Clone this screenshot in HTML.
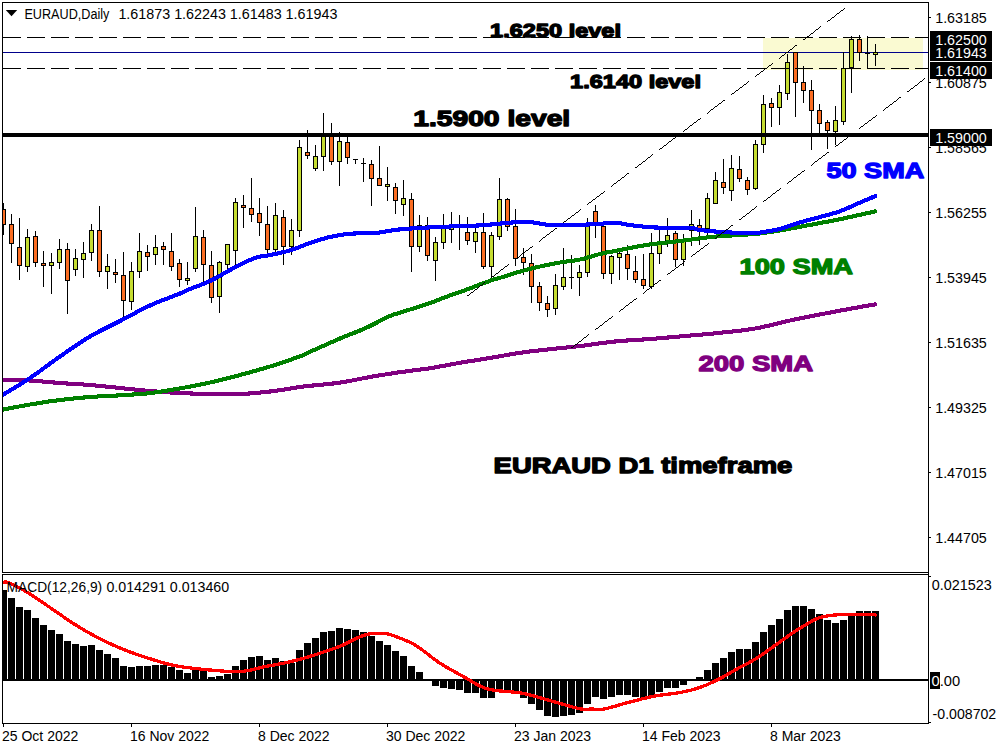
<!DOCTYPE html>
<html lang="en"><head><meta charset="utf-8"><title>EURAUD Daily</title>
<style>html,body{margin:0;padding:0;background:#fff;}body{width:1000px;height:750px;overflow:hidden;}svg{display:block;}</style></head>
<body>
<svg width="1000" height="750" viewBox="0 0 1000 750">
<rect x="0" y="0" width="1000" height="750" fill="#fff"/>
<g shape-rendering="crispEdges">
<rect x="763" y="38" width="160" height="31.5" fill="#FAFAD2"/>
<rect x="3" y="52" width="926" height="1" fill="#00008B"/>
</g>
<defs><clipPath id="cm"><rect x="3" y="3" width="925" height="569"/></clipPath><clipPath id="cs"><rect x="3" y="575" width="925" height="148"/></clipPath></defs>
<g shape-rendering="crispEdges" clip-path="url(#cm)">
<rect x="3" y="203" width="1" height="32" fill="#000"/>
<rect x="1" y="209" width="5" height="16" fill="#000"/>
<rect x="2" y="210" width="3" height="14" fill="#FB6D22"/>
<rect x="11" y="214" width="1" height="49" fill="#000"/>
<rect x="9" y="224" width="5" height="20" fill="#000"/>
<rect x="10" y="225" width="3" height="18" fill="#FB6D22"/>
<rect x="19" y="218" width="1" height="62" fill="#000"/>
<rect x="17" y="247" width="5" height="19" fill="#000"/>
<rect x="18" y="248" width="3" height="17" fill="#FB6D22"/>
<rect x="27" y="229" width="1" height="43" fill="#000"/>
<rect x="25" y="237" width="5" height="30" fill="#000"/>
<rect x="26" y="238" width="3" height="28" fill="#C5DC31"/>
<rect x="35" y="231" width="1" height="36" fill="#000"/>
<rect x="33" y="236" width="5" height="27" fill="#000"/>
<rect x="34" y="237" width="3" height="25" fill="#FB6D22"/>
<rect x="43" y="251" width="1" height="36" fill="#000"/>
<rect x="41" y="263" width="5" height="3" fill="#000"/>
<rect x="42" y="264" width="3" height="1" fill="#FB6D22"/>
<rect x="51" y="253" width="1" height="41" fill="#000"/>
<rect x="49" y="262" width="5" height="4" fill="#000"/>
<rect x="50" y="263" width="3" height="2" fill="#C5DC31"/>
<rect x="59" y="239" width="1" height="30" fill="#000"/>
<rect x="57" y="249" width="5" height="14" fill="#000"/>
<rect x="58" y="250" width="3" height="12" fill="#C5DC31"/>
<rect x="67" y="243" width="1" height="71" fill="#000"/>
<rect x="65" y="249" width="5" height="32" fill="#000"/>
<rect x="66" y="250" width="3" height="30" fill="#FB6D22"/>
<rect x="75" y="249" width="1" height="27" fill="#000"/>
<rect x="73" y="258" width="5" height="12" fill="#000"/>
<rect x="74" y="259" width="3" height="10" fill="#C5DC31"/>
<rect x="83" y="242" width="1" height="36" fill="#000"/>
<rect x="81" y="253" width="5" height="7" fill="#000"/>
<rect x="82" y="254" width="3" height="5" fill="#C5DC31"/>
<rect x="91" y="224" width="1" height="37" fill="#000"/>
<rect x="89" y="230" width="5" height="23" fill="#000"/>
<rect x="90" y="231" width="3" height="21" fill="#C5DC31"/>
<rect x="99" y="206" width="1" height="71" fill="#000"/>
<rect x="97" y="230" width="5" height="42" fill="#000"/>
<rect x="98" y="231" width="3" height="40" fill="#FB6D22"/>
<rect x="107" y="254" width="1" height="35" fill="#000"/>
<rect x="105" y="266" width="5" height="6" fill="#000"/>
<rect x="106" y="267" width="3" height="4" fill="#C5DC31"/>
<rect x="115" y="259" width="1" height="24" fill="#000"/>
<rect x="113" y="272" width="5" height="3" fill="#000"/>
<rect x="114" y="273" width="3" height="1" fill="#FB6D22"/>
<rect x="123" y="252" width="1" height="65" fill="#000"/>
<rect x="121" y="275" width="5" height="26" fill="#000"/>
<rect x="122" y="276" width="3" height="24" fill="#FB6D22"/>
<rect x="131" y="262" width="1" height="48" fill="#000"/>
<rect x="129" y="271" width="5" height="31" fill="#000"/>
<rect x="130" y="272" width="3" height="29" fill="#C5DC31"/>
<rect x="139" y="233" width="1" height="45" fill="#000"/>
<rect x="137" y="251" width="5" height="21" fill="#000"/>
<rect x="138" y="252" width="3" height="19" fill="#C5DC31"/>
<rect x="147" y="245" width="1" height="26" fill="#000"/>
<rect x="145" y="252" width="5" height="5" fill="#000"/>
<rect x="146" y="253" width="3" height="3" fill="#FB6D22"/>
<rect x="155" y="235" width="1" height="30" fill="#000"/>
<rect x="153" y="247" width="5" height="8" fill="#000"/>
<rect x="154" y="248" width="3" height="6" fill="#C5DC31"/>
<rect x="163" y="242" width="1" height="23" fill="#000"/>
<rect x="161" y="246" width="5" height="4" fill="#000"/>
<rect x="162" y="247" width="3" height="2" fill="#FB6D22"/>
<rect x="171" y="233" width="1" height="38" fill="#000"/>
<rect x="169" y="251" width="5" height="16" fill="#000"/>
<rect x="170" y="252" width="3" height="14" fill="#FB6D22"/>
<rect x="179" y="259" width="1" height="28" fill="#000"/>
<rect x="177" y="263" width="5" height="17" fill="#000"/>
<rect x="178" y="264" width="3" height="15" fill="#FB6D22"/>
<rect x="187" y="262" width="1" height="23" fill="#000"/>
<rect x="185" y="278" width="5" height="3" fill="#000"/>
<rect x="186" y="279" width="3" height="1" fill="#C5DC31"/>
<rect x="195" y="207" width="1" height="65" fill="#000"/>
<rect x="193" y="236" width="5" height="33" fill="#000"/>
<rect x="194" y="237" width="3" height="31" fill="#C5DC31"/>
<rect x="203" y="230" width="1" height="52" fill="#000"/>
<rect x="201" y="237" width="5" height="28" fill="#000"/>
<rect x="202" y="238" width="3" height="26" fill="#FB6D22"/>
<rect x="211" y="251" width="1" height="52" fill="#000"/>
<rect x="209" y="265" width="5" height="33" fill="#000"/>
<rect x="210" y="266" width="3" height="31" fill="#FB6D22"/>
<rect x="219" y="261" width="1" height="52" fill="#000"/>
<rect x="217" y="262" width="5" height="35" fill="#000"/>
<rect x="218" y="263" width="3" height="33" fill="#C5DC31"/>
<rect x="227" y="244" width="1" height="27" fill="#000"/>
<rect x="225" y="244" width="5" height="21" fill="#000"/>
<rect x="226" y="245" width="3" height="19" fill="#C5DC31"/>
<rect x="235" y="198" width="1" height="68" fill="#000"/>
<rect x="233" y="202" width="5" height="49" fill="#000"/>
<rect x="234" y="203" width="3" height="47" fill="#C5DC31"/>
<rect x="243" y="195" width="1" height="33" fill="#000"/>
<rect x="241" y="205" width="5" height="3" fill="#000"/>
<rect x="242" y="206" width="3" height="1" fill="#FB6D22"/>
<rect x="251" y="178" width="1" height="44" fill="#000"/>
<rect x="249" y="208" width="5" height="7" fill="#000"/>
<rect x="250" y="209" width="3" height="5" fill="#FB6D22"/>
<rect x="259" y="198" width="1" height="38" fill="#000"/>
<rect x="257" y="213" width="5" height="10" fill="#000"/>
<rect x="258" y="214" width="3" height="8" fill="#FB6D22"/>
<rect x="267" y="206" width="1" height="48" fill="#000"/>
<rect x="265" y="224" width="5" height="26" fill="#000"/>
<rect x="266" y="225" width="3" height="24" fill="#FB6D22"/>
<rect x="275" y="203" width="1" height="49" fill="#000"/>
<rect x="273" y="215" width="5" height="35" fill="#000"/>
<rect x="274" y="216" width="3" height="33" fill="#C5DC31"/>
<rect x="283" y="210" width="1" height="55" fill="#000"/>
<rect x="281" y="217" width="5" height="30" fill="#000"/>
<rect x="282" y="218" width="3" height="28" fill="#FB6D22"/>
<rect x="291" y="219" width="1" height="36" fill="#000"/>
<rect x="289" y="230" width="5" height="17" fill="#000"/>
<rect x="290" y="231" width="3" height="15" fill="#C5DC31"/>
<rect x="299" y="140" width="1" height="97" fill="#000"/>
<rect x="297" y="147" width="5" height="84" fill="#000"/>
<rect x="298" y="148" width="3" height="82" fill="#C5DC31"/>
<rect x="307" y="130" width="1" height="29" fill="#000"/>
<rect x="305" y="152" width="5" height="4" fill="#000"/>
<rect x="306" y="153" width="3" height="2" fill="#FB6D22"/>
<rect x="315" y="145" width="1" height="26" fill="#000"/>
<rect x="313" y="156" width="5" height="13" fill="#000"/>
<rect x="314" y="157" width="3" height="11" fill="#C5DC31"/>
<rect x="323" y="113" width="1" height="58" fill="#000"/>
<rect x="321" y="134" width="5" height="23" fill="#000"/>
<rect x="322" y="135" width="3" height="21" fill="#C5DC31"/>
<rect x="331" y="123" width="1" height="42" fill="#000"/>
<rect x="329" y="134" width="5" height="28" fill="#000"/>
<rect x="330" y="135" width="3" height="26" fill="#FB6D22"/>
<rect x="339" y="132" width="1" height="54" fill="#000"/>
<rect x="337" y="141" width="5" height="21" fill="#000"/>
<rect x="338" y="142" width="3" height="19" fill="#C5DC31"/>
<rect x="347" y="137" width="1" height="27" fill="#000"/>
<rect x="345" y="142" width="5" height="16" fill="#000"/>
<rect x="346" y="143" width="3" height="14" fill="#FB6D22"/>
<rect x="355" y="159" width="1" height="5" fill="#000"/>
<rect x="353" y="159.4" width="5" height="1.0" fill="#000"/>
<rect x="363" y="158" width="1" height="24" fill="#000"/>
<rect x="361" y="163.4" width="5" height="1.0" fill="#000"/>
<rect x="371" y="160" width="1" height="46" fill="#000"/>
<rect x="369" y="164" width="5" height="15" fill="#000"/>
<rect x="370" y="165" width="3" height="13" fill="#FB6D22"/>
<rect x="379" y="146" width="1" height="40" fill="#000"/>
<rect x="377" y="178" width="5" height="8" fill="#000"/>
<rect x="378" y="179" width="3" height="6" fill="#FB6D22"/>
<rect x="387" y="167" width="1" height="34" fill="#000"/>
<rect x="385" y="184" width="5" height="3" fill="#000"/>
<rect x="386" y="185" width="3" height="1" fill="#C5DC31"/>
<rect x="395" y="183" width="1" height="31" fill="#000"/>
<rect x="393" y="187" width="5" height="14" fill="#000"/>
<rect x="394" y="188" width="3" height="12" fill="#FB6D22"/>
<rect x="403" y="180" width="1" height="36" fill="#000"/>
<rect x="401" y="198" width="5" height="7" fill="#000"/>
<rect x="402" y="199" width="3" height="5" fill="#C5DC31"/>
<rect x="411" y="193" width="1" height="79" fill="#000"/>
<rect x="409" y="199" width="5" height="48" fill="#000"/>
<rect x="410" y="200" width="3" height="46" fill="#FB6D22"/>
<rect x="419" y="215" width="1" height="37" fill="#000"/>
<rect x="417" y="225" width="5" height="22" fill="#000"/>
<rect x="418" y="226" width="3" height="20" fill="#C5DC31"/>
<rect x="427" y="217" width="1" height="44" fill="#000"/>
<rect x="425" y="225" width="5" height="31" fill="#000"/>
<rect x="426" y="226" width="3" height="29" fill="#FB6D22"/>
<rect x="435" y="237" width="1" height="44" fill="#000"/>
<rect x="433" y="242" width="5" height="19" fill="#000"/>
<rect x="434" y="243" width="3" height="17" fill="#C5DC31"/>
<rect x="443" y="214" width="1" height="35" fill="#000"/>
<rect x="441" y="228" width="5" height="15" fill="#000"/>
<rect x="442" y="229" width="3" height="13" fill="#C5DC31"/>
<rect x="451" y="212" width="1" height="31" fill="#000"/>
<rect x="449" y="227" width="5" height="3" fill="#000"/>
<rect x="450" y="228" width="3" height="1" fill="#C5DC31"/>
<rect x="459" y="215" width="1" height="35" fill="#000"/>
<rect x="457" y="226.0" width="5" height="1.0" fill="#000"/>
<rect x="467" y="217" width="1" height="28" fill="#000"/>
<rect x="465" y="232" width="5" height="9" fill="#000"/>
<rect x="466" y="233" width="3" height="7" fill="#FB6D22"/>
<rect x="475" y="228" width="1" height="25" fill="#000"/>
<rect x="473" y="232" width="5" height="10" fill="#000"/>
<rect x="474" y="233" width="3" height="8" fill="#C5DC31"/>
<rect x="483" y="213" width="1" height="56" fill="#000"/>
<rect x="481" y="232" width="5" height="35" fill="#000"/>
<rect x="482" y="233" width="3" height="33" fill="#FB6D22"/>
<rect x="491" y="232" width="1" height="46" fill="#000"/>
<rect x="489" y="235" width="5" height="32" fill="#000"/>
<rect x="490" y="236" width="3" height="30" fill="#C5DC31"/>
<rect x="499" y="178" width="1" height="62" fill="#000"/>
<rect x="497" y="199" width="5" height="38" fill="#000"/>
<rect x="498" y="200" width="3" height="36" fill="#C5DC31"/>
<rect x="507" y="198" width="1" height="33" fill="#000"/>
<rect x="505" y="199" width="5" height="28" fill="#000"/>
<rect x="506" y="200" width="3" height="26" fill="#FB6D22"/>
<rect x="515" y="209" width="1" height="57" fill="#000"/>
<rect x="513" y="226" width="5" height="33" fill="#000"/>
<rect x="514" y="227" width="3" height="31" fill="#FB6D22"/>
<rect x="523" y="248" width="1" height="27" fill="#000"/>
<rect x="521" y="257" width="5" height="6" fill="#000"/>
<rect x="522" y="258" width="3" height="4" fill="#FB6D22"/>
<rect x="531" y="254" width="1" height="49" fill="#000"/>
<rect x="529" y="263" width="5" height="24" fill="#000"/>
<rect x="530" y="264" width="3" height="22" fill="#FB6D22"/>
<rect x="539" y="282" width="1" height="29" fill="#000"/>
<rect x="537" y="286" width="5" height="17" fill="#000"/>
<rect x="538" y="287" width="3" height="15" fill="#FB6D22"/>
<rect x="547" y="296" width="1" height="21" fill="#000"/>
<rect x="545" y="303" width="5" height="7" fill="#000"/>
<rect x="546" y="304" width="3" height="5" fill="#FB6D22"/>
<rect x="555" y="274" width="1" height="41" fill="#000"/>
<rect x="553" y="285" width="5" height="24" fill="#000"/>
<rect x="554" y="286" width="3" height="22" fill="#C5DC31"/>
<rect x="563" y="248" width="1" height="42" fill="#000"/>
<rect x="561" y="277" width="5" height="10" fill="#000"/>
<rect x="562" y="278" width="3" height="8" fill="#C5DC31"/>
<rect x="571" y="255" width="1" height="34" fill="#000"/>
<rect x="569" y="277.4" width="5" height="1.0" fill="#000"/>
<rect x="579" y="265" width="1" height="31" fill="#000"/>
<rect x="577" y="272" width="5" height="6" fill="#000"/>
<rect x="578" y="273" width="3" height="4" fill="#C5DC31"/>
<rect x="587" y="218" width="1" height="59" fill="#000"/>
<rect x="585" y="226" width="5" height="47" fill="#000"/>
<rect x="586" y="227" width="3" height="45" fill="#C5DC31"/>
<rect x="595" y="205" width="1" height="33" fill="#000"/>
<rect x="593" y="211" width="5" height="15" fill="#000"/>
<rect x="594" y="212" width="3" height="13" fill="#FB6D22"/>
<rect x="603" y="226" width="1" height="53" fill="#000"/>
<rect x="601" y="226" width="5" height="48" fill="#000"/>
<rect x="602" y="227" width="3" height="46" fill="#FB6D22"/>
<rect x="611" y="255" width="1" height="29" fill="#000"/>
<rect x="609" y="256" width="5" height="18" fill="#000"/>
<rect x="610" y="257" width="3" height="16" fill="#C5DC31"/>
<rect x="619" y="252" width="1" height="28" fill="#000"/>
<rect x="617" y="253" width="5" height="5" fill="#000"/>
<rect x="618" y="254" width="3" height="3" fill="#C5DC31"/>
<rect x="627" y="245" width="1" height="35" fill="#000"/>
<rect x="625" y="254" width="5" height="15" fill="#000"/>
<rect x="626" y="255" width="3" height="13" fill="#FB6D22"/>
<rect x="635" y="256" width="1" height="27" fill="#000"/>
<rect x="633" y="271" width="5" height="9" fill="#000"/>
<rect x="634" y="272" width="3" height="7" fill="#FB6D22"/>
<rect x="643" y="254" width="1" height="35" fill="#000"/>
<rect x="641" y="279" width="5" height="7" fill="#000"/>
<rect x="642" y="280" width="3" height="5" fill="#FB6D22"/>
<rect x="651" y="233" width="1" height="56" fill="#000"/>
<rect x="649" y="253" width="5" height="34" fill="#000"/>
<rect x="650" y="254" width="3" height="32" fill="#C5DC31"/>
<rect x="659" y="230" width="1" height="34" fill="#000"/>
<rect x="657" y="244" width="5" height="10" fill="#000"/>
<rect x="658" y="245" width="3" height="8" fill="#C5DC31"/>
<rect x="667" y="218" width="1" height="29" fill="#000"/>
<rect x="665" y="235" width="5" height="7" fill="#000"/>
<rect x="666" y="236" width="3" height="5" fill="#C5DC31"/>
<rect x="675" y="231" width="1" height="36" fill="#000"/>
<rect x="673" y="233" width="5" height="27" fill="#000"/>
<rect x="674" y="234" width="3" height="25" fill="#FB6D22"/>
<rect x="683" y="234" width="1" height="32" fill="#000"/>
<rect x="681" y="240" width="5" height="20" fill="#000"/>
<rect x="682" y="241" width="3" height="18" fill="#C5DC31"/>
<rect x="691" y="210" width="1" height="36" fill="#000"/>
<rect x="689" y="224" width="5" height="7" fill="#000"/>
<rect x="690" y="225" width="3" height="5" fill="#C5DC31"/>
<rect x="699" y="219" width="1" height="26" fill="#000"/>
<rect x="697" y="225" width="5" height="6" fill="#000"/>
<rect x="698" y="226" width="3" height="4" fill="#FB6D22"/>
<rect x="707" y="193" width="1" height="42" fill="#000"/>
<rect x="705" y="198" width="5" height="31" fill="#000"/>
<rect x="706" y="199" width="3" height="29" fill="#C5DC31"/>
<rect x="715" y="172" width="1" height="32" fill="#000"/>
<rect x="713" y="180" width="5" height="24" fill="#000"/>
<rect x="714" y="181" width="3" height="22" fill="#C5DC31"/>
<rect x="723" y="159" width="1" height="35" fill="#000"/>
<rect x="721" y="182" width="5" height="6" fill="#000"/>
<rect x="722" y="183" width="3" height="4" fill="#FB6D22"/>
<rect x="731" y="155" width="1" height="46" fill="#000"/>
<rect x="729" y="168" width="5" height="23" fill="#000"/>
<rect x="730" y="169" width="3" height="21" fill="#C5DC31"/>
<rect x="739" y="156" width="1" height="26" fill="#000"/>
<rect x="737" y="169" width="5" height="10" fill="#000"/>
<rect x="738" y="170" width="3" height="8" fill="#FB6D22"/>
<rect x="747" y="177" width="1" height="18" fill="#000"/>
<rect x="745" y="180" width="5" height="10" fill="#000"/>
<rect x="746" y="181" width="3" height="8" fill="#FB6D22"/>
<rect x="755" y="140" width="1" height="50" fill="#000"/>
<rect x="753" y="144" width="5" height="45" fill="#000"/>
<rect x="754" y="145" width="3" height="43" fill="#C5DC31"/>
<rect x="763" y="95" width="1" height="58" fill="#000"/>
<rect x="761" y="104" width="5" height="41" fill="#000"/>
<rect x="762" y="105" width="3" height="39" fill="#C5DC31"/>
<rect x="771" y="98" width="1" height="29" fill="#000"/>
<rect x="769" y="103" width="5" height="5" fill="#000"/>
<rect x="770" y="104" width="3" height="3" fill="#FB6D22"/>
<rect x="779" y="85" width="1" height="40" fill="#000"/>
<rect x="777" y="92" width="5" height="16" fill="#000"/>
<rect x="778" y="93" width="3" height="14" fill="#C5DC31"/>
<rect x="787" y="54" width="1" height="46" fill="#000"/>
<rect x="785" y="62" width="5" height="32" fill="#000"/>
<rect x="786" y="63" width="3" height="30" fill="#C5DC31"/>
<rect x="795" y="52" width="1" height="65" fill="#000"/>
<rect x="793" y="52" width="5" height="31" fill="#000"/>
<rect x="794" y="53" width="3" height="29" fill="#FB6D22"/>
<rect x="803" y="66" width="1" height="37" fill="#000"/>
<rect x="801" y="82" width="5" height="9" fill="#000"/>
<rect x="802" y="83" width="3" height="7" fill="#FB6D22"/>
<rect x="811" y="80" width="1" height="70" fill="#000"/>
<rect x="809" y="90" width="5" height="21" fill="#000"/>
<rect x="810" y="91" width="3" height="19" fill="#FB6D22"/>
<rect x="819" y="104" width="1" height="29" fill="#000"/>
<rect x="817" y="110" width="5" height="14" fill="#000"/>
<rect x="818" y="111" width="3" height="12" fill="#FB6D22"/>
<rect x="827" y="120" width="1" height="29" fill="#000"/>
<rect x="825" y="122" width="5" height="9" fill="#000"/>
<rect x="826" y="123" width="3" height="7" fill="#FB6D22"/>
<rect x="835" y="106" width="1" height="39" fill="#000"/>
<rect x="833" y="120" width="5" height="12" fill="#000"/>
<rect x="834" y="121" width="3" height="10" fill="#C5DC31"/>
<rect x="843" y="52" width="1" height="73" fill="#000"/>
<rect x="841" y="68" width="5" height="54" fill="#000"/>
<rect x="842" y="69" width="3" height="52" fill="#C5DC31"/>
<rect x="851" y="36" width="1" height="57" fill="#000"/>
<rect x="849" y="39" width="5" height="29" fill="#000"/>
<rect x="850" y="40" width="3" height="27" fill="#C5DC31"/>
<rect x="859" y="35" width="1" height="26" fill="#000"/>
<rect x="857" y="39" width="5" height="14" fill="#000"/>
<rect x="858" y="40" width="3" height="12" fill="#FB6D22"/>
<rect x="867" y="36" width="1" height="33" fill="#000"/>
<rect x="865" y="53.4" width="5" height="1.0" fill="#000"/>
<rect x="875" y="44" width="1" height="22" fill="#000"/>
<rect x="873" y="52" width="5" height="3" fill="#000"/>
<rect x="874" y="53" width="3" height="1" fill="#C5DC31"/>
</g>
<g clip-path="url(#cm)" shape-rendering="crispEdges">
<path d="M3 378H31V379H43V380H55V381H68V382H84V383H96V384H106V385H116V386H125V387H135V388H145V389H157V390H172V391H193V392H248V391H260V390H269V389H277V388H284V387H290V386H296V385H303V384H312V383H323V382H332V381H340V380H346V379H352V378H357V377H362V376H367V375H372V374H378V373H385V372H391V371H397V370H405V369H412V368H420V367H428V366H434V365H439V364H445V363H450V362H456V361H461V360H467V359H474V358H480V357H486V356H492V355H498V354H504V353H509V352H515V351H522V350H529V349H538V348H547V347H556V346H566V345H575V344H584V343H591V342H598V341H606V340H614V339H626V338H642V337H656V336H667V335H679V334H690V333H702V332H713V331H722V330H732V329H741V328H748V327H755V326H760V325H764V324H769V323H773V322H777V321H781V320H785V319H790V318H794V317H799V316H804V315H809V314H814V313H819V312H825V311H830V310H835V309H840V308H846V307H851V306H857V305H862V304H868V303H874V302H875V307H869V308H863V309H858V310H852V311H847V312H841V313H836V314H831V315H825V316H820V317H815V318H810V319H805V320H800V321H795V322H790V323H786V324H782V325H778V326H774V327H770V328H765V329H761V330H755V331H749V332H742V333H733V334H723V335H714V336H703V337H691V338H680V339H669V340H657V341H644V342H628V343H616V344H607V345H599V346H592V347H585V348H576V349H567V350H557V351H548V352H539V353H530V354H523V355H516V356H510V357H504V358H499V359H493V360H487V361H481V362H475V363H468V364H462V365H456V366H451V367H446V368H440V369H435V370H429V371H421V372H413V373H406V374H398V375H392V376H385V377H379V378H373V379H368V380H362V381H357V382H352V383H347V384H341V385H334V386H324V387H314V388H304V389H297V390H291V391H285V392H278V393H271V394H261V395H250V396H190V395H170V394H156V393H144V392H134V391H124V390H115V389H105V388H95V387H83V386H66V385H53V384H42V383H29V382H3Z" fill="#800080" /><circle cx="875.5" cy="304.3" r="2.05" fill="#800080"/>
<path d="M3 407H8V406H13V405H19V404H24V403H30V402H36V401H42V400H48V399H56V398H64V397H73V396H83V395H97V394H116V393H132V392H146V391H154V390H161V389H167V388H173V387H179V386H185V385H190V384H195V383H200V382H205V381H210V380H214V379H218V378H222V377H226V376H230V375H234V374H238V373H241V372H245V371H249V370H252V369H256V368H259V367H263V366H266V365H270V364H273V363H276V362H279V361H282V360H285V359H288V358H291V357H293V356H296V355H299V354H302V353H304V352H306V351H308V350H310V349H312V348H315V347H317V346H319V345H321V344H324V343H326V342H328V341H330V340H333V339H335V338H337V337H339V336H342V335H344V334H347V333H349V332H352V331H354V330H357V329H359V328H362V327H364V326H366V325H368V324H370V323H372V322H374V321H376V320H378V319H380V318H382V317H384V316H386V315H388V314H391V313H393V312H397V311H400V310H403V309H406V308H410V307H413V306H416V305H419V304H422V303H425V302H428V301H431V300H434V299H436V298H439V297H441V296H444V295H447V294H449V293H452V292H455V291H458V290H461V289H464V288H466V287H469V286H472V285H474V284H477V283H479V282H482V281H485V280H488V279H490V278H493V277H497V276H501V275H504V274H507V273H510V272H513V271H516V270H520V269H524V268H527V267H531V266H535V265H540V264H544V263H549V262H554V261H560V260H566V259H574V258H580V257H584V256H587V255H591V254H594V253H598V252H602V251H606V250H612V249H617V248H622V247H627V246H632V245H637V244H643V243H649V242H657V241H666V240H675V239H683V238H691V237H698V236H706V235H716V234H730V233H747V232H759V231H766V230H773V229H779V228H785V227H790V226H796V225H801V224H806V223H812V222H817V221H822V220H828V219H833V218H838V217H843V216H847V215H852V214H856V213H861V212H865V211H870V210H874V209H875V214H871V215H866V216H862V217H857V218H853V219H848V220H844V221H839V222H834V223H829V224H823V225H818V226H813V227H807V228H802V229H797V230H791V231H786V232H780V233H774V234H767V235H760V236H748V237H732V238H717V239H707V240H699V241H692V242H684V243H676V244H667V245H658V246H650V247H644V248H638V249H633V250H628V251H623V252H618V253H613V254H607V255H603V256H598V257H595V258H592V259H588V260H585V261H580V262H575V263H567V264H560V265H555V266H550V267H545V268H540V269H536V270H532V271H528V272H524V273H521V274H517V275H514V276H511V277H508V278H505V279H501V280H498V281H494V282H491V283H489V284H486V285H483V286H480V287H478V288H475V289H473V290H470V291H467V292H465V293H462V294H459V295H456V296H453V297H450V298H448V299H445V300H442V301H440V302H437V303H435V304H432V305H429V306H426V307H423V308H420V309H417V310H414V311H410V312H407V313H404V314H401V315H398V316H394V317H392V318H389V319H387V320H385V321H383V322H381V323H379V324H378V325H376V326H374V327H372V328H370V329H367V330H365V331H363V332H361V333H358V334H356V335H353V336H350V337H348V338H345V339H343V340H341V341H338V342H336V343H334V344H331V345H329V346H327V347H325V348H322V349H320V350H318V351H316V352H313V353H311V354H309V355H307V356H305V357H303V358H300V359H297V360H294V361H292V362H289V363H286V364H283V365H280V366H277V367H274V368H270V369H267V370H264V371H260V372H257V373H253V374H250V375H246V376H242V377H239V378H235V379H231V380H227V381H223V382H219V383H215V384H210V385H206V386H201V387H196V388H191V389H185V390H180V391H174V392H168V393H162V394H155V395H147V396H134V397H118V398H98V399H85V400H74V401H65V402H57V403H49V404H43V405H37V406H30V407H25V408H19V409H14V410H9V411H4V412H3Z" fill="#008000" /><circle cx="875.5" cy="211.3" r="2.05" fill="#008000"/>
<path d="M3 392H4V391H6V390H8V389H9V388H11V387H13V386H14V385H16V384H18V383H19V382H21V381H22V380H24V379H26V378H27V377H29V376H30V375H31V374H33V373H34V372H36V371H37V370H39V369H40V368H41V367H43V366H44V365H45V364H47V363H48V362H49V361H51V360H52V359H54V358H55V357H56V356H58V355H59V354H61V353H62V352H64V351H65V350H66V349H68V348H69V347H71V346H72V345H74V344H75V343H77V342H78V341H80V340H81V339H83V338H84V337H86V336H88V335H89V334H91V333H93V332H95V331H97V330H98V329H100V328H102V327H104V326H106V325H108V324H110V323H112V322H114V321H116V320H118V319H120V318H122V317H124V316H126V315H128V314H130V313H132V312H134V311H135V310H137V309H139V308H141V307H143V306H145V305H147V304H149V303H152V302H154V301H156V300H159V299H161V298H164V297H167V296H169V295H172V294H174V293H177V292H179V291H182V290H184V289H186V288H188V287H191V286H193V285H196V284H199V283H201V282H204V281H206V280H208V279H210V278H212V277H214V276H216V275H218V274H220V273H221V272H223V271H225V270H227V269H228V268H230V267H232V266H234V265H236V264H238V263H240V262H242V261H244V260H246V259H248V258H251V257H253V256H256V255H260V254H267V253H272V252H277V251H281V250H286V249H289V248H292V247H295V246H298V245H300V244H303V243H305V242H308V241H311V240H314V239H317V238H320V237H324V236H327V235H332V234H337V233H343V232H353V231H379V230H385V229H391V228H398V227H410V226H427V225H449V224H476V223H490V222H500V221H511V220H534V221H540V222H546V223H586V222H603V221H622V222H627V223H634V224H643V225H658V226H695V227H698V228H705V229H716V230H732V231H760V230H766V229H772V228H777V227H781V226H784V225H787V224H790V223H793V222H796V221H799V220H803V219H806V218H810V217H814V216H818V215H821V214H825V213H829V212H832V211H836V210H839V209H841V208H844V207H846V206H848V205H851V204H853V203H855V202H857V201H860V200H862V199H864V198H867V197H869V196H871V195H874V194H875V199H873V200H870V201H868V202H865V203H863V204H861V205H858V206H856V207H854V208H852V209H850V210H847V211H845V212H842V213H840V214H837V215H833V216H830V217H826V218H822V219H819V220H815V221H811V222H807V223H804V224H800V225H797V226H794V227H791V228H788V229H785V230H782V231H778V232H773V233H767V234H761V235H730V234H714V233H704V232H697V231H694V230H654V229H642V228H633V227H626V226H621V225H604V226H589V227H545V226H539V225H533V224H513V225H502V226H492V227H479V228H451V229H429V230H412V231H400V232H392V233H386V234H380V235H356V236H344V237H338V238H333V239H328V240H325V241H321V242H318V243H315V244H312V245H309V246H306V247H304V248H301V249H299V250H296V251H293V252H290V253H286V254H282V255H278V256H273V257H268V258H261V259H257V260H254V261H252V262H249V263H247V264H245V265H243V266H241V267H239V268H237V269H235V270H233V271H232V272H230V273H228V274H226V275H224V276H223V277H221V278H219V279H217V280H216V281H214V282H212V283H209V284H207V285H205V286H202V287H200V288H197V289H194V290H192V291H189V292H187V293H185V294H183V295H181V296H178V297H175V298H173V299H170V300H168V301H165V302H162V303H160V304H157V305H155V306H153V307H151V308H148V309H146V310H144V311H142V312H140V313H138V314H137V315H135V316H133V317H131V318H129V319H127V320H125V321H123V322H122V323H120V324H118V325H116V326H114V327H112V328H110V329H108V330H106V331H104V332H102V333H100V334H98V335H96V336H94V337H92V338H91V339H89V340H87V341H86V342H84V343H83V344H81V345H80V346H78V347H77V348H75V349H74V350H72V351H71V352H69V353H68V354H66V355H65V356H64V357H62V358H61V359H59V360H58V361H56V362H55V363H54V364H52V365H51V366H50V367H48V368H47V369H45V370H44V371H43V372H41V373H40V374H39V375H37V376H36V377H34V378H33V379H31V380H30V381H28V382H27V383H25V384H24V385H22V386H21V387H19V388H17V389H16V390H14V391H12V392H11V393H9V394H7V395H6V396H4V397H3Z" fill="#0000FF" /><circle cx="875.5" cy="196.0" r="2.05" fill="#0000FF"/>
</g>
<g shape-rendering="crispEdges">
<line x1="3" y1="37.5" x2="928" y2="37.5" stroke="#000" stroke-width="1" stroke-dasharray="18 6"/>
<line x1="3" y1="68.5" x2="928" y2="68.5" stroke="#000" stroke-width="1" stroke-dasharray="18 6"/>
<rect x="3" y="133" width="926" height="4" fill="#000"/>
</g>
<g shape-rendering="crispEdges" clip-path="url(#cm)">
<path d="M467 295h2v1h-2zM469 294h1v1h-1zM470 293h1v1h-1zM471 292h2v1h-2zM473 291h1v1h-1zM474 290h1v1h-1zM475 289h2v1h-2zM477 288h1v1h-1zM478 287h1v1h-1zM479 286h1v1h-1zM480 285h2v1h-2zM482 284h1v1h-1zM483 283h1v1h-1zM484 282h1v1h-1zM491 277h1v1h-1zM492 276h2v1h-2zM494 275h1v1h-1zM495 274h1v1h-1zM496 273h2v1h-2zM498 272h1v1h-1zM499 271h1v1h-1zM500 270h1v1h-1zM501 269h2v1h-2zM503 268h1v1h-1zM504 267h1v1h-1zM505 266h2v1h-2zM507 265h1v1h-1zM508 264h1v1h-1zM515 259h1v1h-1zM516 258h1v1h-1zM517 257h2v1h-2zM519 256h1v1h-1zM520 255h1v1h-1zM521 254h1v1h-1zM522 253h2v1h-2zM524 252h1v1h-1zM525 251h1v1h-1zM526 250h2v1h-2zM528 249h1v1h-1zM529 248h1v1h-1zM530 247h2v1h-2zM532 246h1v1h-1zM539 241h1v1h-1zM540 240h1v1h-1zM541 239h1v1h-1zM542 238h1v1h-1zM543 237h2v1h-2zM545 236h1v1h-1zM546 235h1v1h-1zM547 234h2v1h-2zM549 233h1v1h-1zM550 232h1v1h-1zM551 231h2v1h-2zM553 230h1v1h-1zM554 229h1v1h-1zM555 228h2v1h-2zM563 222h1v1h-1zM564 221h2v1h-2zM566 220h1v1h-1zM567 219h1v1h-1zM568 218h2v1h-2zM570 217h1v1h-1zM571 216h1v1h-1zM572 215h2v1h-2zM574 214h1v1h-1zM575 213h1v1h-1zM576 212h2v1h-2zM578 211h1v1h-1zM579 210h1v1h-1zM580 209h1v1h-1zM587 204h1v1h-1zM588 203h1v1h-1zM589 202h2v1h-2zM591 201h1v1h-1zM592 200h1v1h-1zM593 199h2v1h-2zM595 198h1v1h-1zM596 197h1v1h-1zM597 196h2v1h-2zM599 195h1v1h-1zM600 194h1v1h-1zM601 193h2v1h-2zM603 192h1v1h-1zM604 191h1v1h-1zM611 186h1v1h-1zM612 185h1v1h-1zM613 184h1v1h-1zM614 183h2v1h-2zM616 182h1v1h-1zM617 181h1v1h-1zM618 180h2v1h-2zM620 179h1v1h-1zM621 178h1v1h-1zM622 177h2v1h-2zM624 176h1v1h-1zM625 175h1v1h-1zM626 174h1v1h-1zM627 173h2v1h-2zM635 167h2v1h-2zM637 166h1v1h-1zM638 165h1v1h-1zM639 164h2v1h-2zM641 163h1v1h-1zM642 162h1v1h-1zM643 161h2v1h-2zM645 160h1v1h-1zM646 159h1v1h-1zM647 158h1v1h-1zM648 157h2v1h-2zM650 156h1v1h-1zM651 155h1v1h-1zM652 154h1v1h-1zM659 149h1v1h-1zM660 148h2v1h-2zM662 147h1v1h-1zM663 146h1v1h-1zM664 145h2v1h-2zM666 144h1v1h-1zM667 143h1v1h-1zM668 142h1v1h-1zM669 141h2v1h-2zM671 140h1v1h-1zM672 139h1v1h-1zM673 138h2v1h-2zM675 137h1v1h-1zM676 136h1v1h-1zM683 131h1v1h-1zM684 130h1v1h-1zM685 129h2v1h-2zM687 128h1v1h-1zM688 127h1v1h-1zM689 126h1v1h-1zM690 125h2v1h-2zM692 124h1v1h-1zM693 123h1v1h-1zM694 122h2v1h-2zM696 121h1v1h-1zM697 120h1v1h-1zM698 119h2v1h-2zM700 118h1v1h-1zM707 113h1v1h-1zM708 112h1v1h-1zM709 111h1v1h-1zM710 110h1v1h-1zM711 109h2v1h-2zM713 108h1v1h-1zM714 107h1v1h-1zM715 106h2v1h-2zM717 105h1v1h-1zM718 104h1v1h-1zM719 103h2v1h-2zM721 102h1v1h-1zM722 101h1v1h-1zM723 100h2v1h-2zM731 94h1v1h-1zM732 93h2v1h-2zM734 92h1v1h-1zM735 91h1v1h-1zM736 90h2v1h-2zM738 89h1v1h-1zM739 88h1v1h-1zM740 87h2v1h-2zM742 86h1v1h-1zM743 85h1v1h-1zM744 84h2v1h-2zM746 83h1v1h-1zM747 82h1v1h-1zM748 81h1v1h-1zM755 76h1v1h-1zM756 75h1v1h-1zM757 74h2v1h-2zM759 73h1v1h-1zM760 72h1v1h-1zM761 71h2v1h-2zM763 70h1v1h-1zM764 69h1v1h-1zM765 68h2v1h-2zM767 67h1v1h-1zM768 66h1v1h-1zM769 65h2v1h-2zM771 64h1v1h-1zM772 63h1v1h-1zM779 58h1v1h-1zM780 57h1v1h-1zM781 56h1v1h-1zM782 55h2v1h-2zM784 54h1v1h-1zM785 53h1v1h-1zM786 52h2v1h-2zM788 51h1v1h-1zM789 50h1v1h-1zM790 49h2v1h-2zM792 48h1v1h-1zM793 47h1v1h-1zM794 46h1v1h-1zM795 45h2v1h-2zM803 39h2v1h-2zM805 38h1v1h-1zM806 37h1v1h-1zM807 36h2v1h-2zM809 35h1v1h-1zM810 34h1v1h-1zM811 33h2v1h-2zM813 32h1v1h-1zM814 31h1v1h-1zM815 30h1v1h-1zM816 29h2v1h-2zM818 28h1v1h-1zM819 27h1v1h-1zM820 26h1v1h-1zM827 21h1v1h-1zM828 20h2v1h-2zM830 19h1v1h-1zM831 18h1v1h-1zM832 17h2v1h-2zM834 16h1v1h-1zM835 15h1v1h-1zM836 14h1v1h-1zM837 13h2v1h-2zM839 12h1v1h-1zM840 11h1v1h-1zM841 10h2v1h-2zM843 9h1v1h-1zM844 8h1v1h-1z" fill="#000"/>
<path d="M571 347h2v1h-2zM573 346h1v1h-1zM574 345h1v1h-1zM575 344h2v1h-2zM577 343h1v1h-1zM578 342h1v1h-1zM579 341h2v1h-2zM581 340h1v1h-1zM582 339h1v1h-1zM583 338h1v1h-1zM584 337h2v1h-2zM586 336h1v1h-1zM587 335h1v1h-1zM588 334h1v1h-1zM595 329h1v1h-1zM596 328h2v1h-2zM598 327h1v1h-1zM599 326h1v1h-1zM600 325h2v1h-2zM602 324h1v1h-1zM603 323h1v1h-1zM604 322h1v1h-1zM605 321h2v1h-2zM607 320h1v1h-1zM608 319h1v1h-1zM609 318h2v1h-2zM611 317h1v1h-1zM612 316h1v1h-1zM619 311h1v1h-1zM620 310h1v1h-1zM621 309h2v1h-2zM623 308h1v1h-1zM624 307h1v1h-1zM625 306h1v1h-1zM626 305h2v1h-2zM628 304h1v1h-1zM629 303h1v1h-1zM630 302h2v1h-2zM632 301h1v1h-1zM633 300h1v1h-1zM634 299h2v1h-2zM636 298h1v1h-1zM643 293h1v1h-1zM644 292h1v1h-1zM645 291h1v1h-1zM646 290h1v1h-1zM647 289h2v1h-2zM649 288h1v1h-1zM650 287h1v1h-1zM651 286h2v1h-2zM653 285h1v1h-1zM654 284h1v1h-1zM655 283h2v1h-2zM657 282h1v1h-1zM658 281h1v1h-1zM659 280h2v1h-2zM667 274h1v1h-1zM668 273h2v1h-2zM670 272h1v1h-1zM671 271h1v1h-1zM672 270h2v1h-2zM674 269h1v1h-1zM675 268h1v1h-1zM676 267h2v1h-2zM678 266h1v1h-1zM679 265h1v1h-1zM680 264h2v1h-2zM682 263h1v1h-1zM683 262h1v1h-1zM684 261h1v1h-1zM691 256h1v1h-1zM692 255h1v1h-1zM693 254h2v1h-2zM695 253h1v1h-1zM696 252h1v1h-1zM697 251h2v1h-2zM699 250h1v1h-1zM700 249h1v1h-1zM701 248h2v1h-2zM703 247h1v1h-1zM704 246h1v1h-1zM705 245h2v1h-2zM707 244h1v1h-1zM708 243h1v1h-1zM715 238h1v1h-1zM716 237h1v1h-1zM717 236h1v1h-1zM718 235h2v1h-2zM720 234h1v1h-1zM721 233h1v1h-1zM722 232h2v1h-2zM724 231h1v1h-1zM725 230h1v1h-1zM726 229h2v1h-2zM728 228h1v1h-1zM729 227h1v1h-1zM730 226h1v1h-1zM731 225h2v1h-2zM739 219h2v1h-2zM741 218h1v1h-1zM742 217h1v1h-1zM743 216h2v1h-2zM745 215h1v1h-1zM746 214h1v1h-1zM747 213h2v1h-2zM749 212h1v1h-1zM750 211h1v1h-1zM751 210h1v1h-1zM752 209h2v1h-2zM754 208h1v1h-1zM755 207h1v1h-1zM756 206h1v1h-1zM763 201h1v1h-1zM764 200h2v1h-2zM766 199h1v1h-1zM767 198h1v1h-1zM768 197h2v1h-2zM770 196h1v1h-1zM771 195h1v1h-1zM772 194h1v1h-1zM773 193h2v1h-2zM775 192h1v1h-1zM776 191h1v1h-1zM777 190h2v1h-2zM779 189h1v1h-1zM780 188h1v1h-1zM787 183h1v1h-1zM788 182h1v1h-1zM789 181h2v1h-2zM791 180h1v1h-1zM792 179h1v1h-1zM793 178h1v1h-1zM794 177h2v1h-2zM796 176h1v1h-1zM797 175h1v1h-1zM798 174h2v1h-2zM800 173h1v1h-1zM801 172h1v1h-1zM802 171h2v1h-2zM804 170h1v1h-1zM811 165h1v1h-1zM812 164h1v1h-1zM813 163h1v1h-1zM814 162h1v1h-1zM815 161h2v1h-2zM817 160h1v1h-1zM818 159h1v1h-1zM819 158h2v1h-2zM821 157h1v1h-1zM822 156h1v1h-1zM823 155h2v1h-2zM825 154h1v1h-1zM826 153h1v1h-1zM827 152h2v1h-2zM835 146h1v1h-1zM836 145h2v1h-2zM838 144h1v1h-1zM839 143h1v1h-1zM840 142h2v1h-2zM842 141h1v1h-1zM843 140h1v1h-1zM844 139h2v1h-2zM846 138h1v1h-1zM847 137h1v1h-1zM848 136h2v1h-2zM850 135h1v1h-1zM851 134h1v1h-1zM852 133h1v1h-1zM859 128h1v1h-1zM860 127h1v1h-1zM861 126h2v1h-2zM863 125h1v1h-1zM864 124h1v1h-1zM865 123h2v1h-2zM867 122h1v1h-1zM868 121h1v1h-1zM869 120h2v1h-2zM871 119h1v1h-1zM872 118h1v1h-1zM873 117h2v1h-2zM875 116h1v1h-1zM876 115h1v1h-1zM883 110h1v1h-1zM884 109h1v1h-1zM885 108h1v1h-1zM886 107h2v1h-2zM888 106h1v1h-1zM889 105h1v1h-1zM890 104h2v1h-2zM892 103h1v1h-1zM893 102h1v1h-1zM894 101h2v1h-2zM896 100h1v1h-1zM897 99h1v1h-1zM898 98h1v1h-1zM899 97h2v1h-2zM907 91h2v1h-2zM909 90h1v1h-1zM910 89h1v1h-1zM911 88h2v1h-2zM913 87h1v1h-1zM914 86h1v1h-1zM915 85h2v1h-2zM917 84h1v1h-1zM918 83h1v1h-1zM919 82h1v1h-1zM920 81h2v1h-2zM922 80h1v1h-1zM923 79h1v1h-1zM924 78h1v1h-1z" fill="#000"/>
</g>
<g shape-rendering="crispEdges" fill="#000">
<rect x="2" y="2" width="927" height="1"/>
<rect x="2" y="2" width="1" height="571"/>
<rect x="2" y="574" width="1" height="150"/>
<rect x="928" y="2" width="1" height="722"/>
<rect x="2" y="572" width="927" height="1"/>
<rect x="2" y="574" width="927" height="1"/>
<rect x="2" y="723" width="927" height="1"/>
<rect x="929" y="576" width="2" height="1"/>
<rect x="929" y="722" width="2" height="1"/>
<rect x="929" y="17" width="2" height="1"/>
<rect x="929" y="82" width="2" height="1"/>
<rect x="929" y="147" width="2" height="1"/>
<rect x="929" y="212" width="2" height="1"/>
<rect x="929" y="277" width="2" height="1"/>
<rect x="929" y="342" width="2" height="1"/>
<rect x="929" y="407" width="2" height="1"/>
<rect x="929" y="472" width="2" height="1"/>
<rect x="929" y="537" width="2" height="1"/>
<rect x="3" y="724" width="1" height="3"/>
<rect x="131" y="724" width="1" height="3"/>
<rect x="259" y="724" width="1" height="3"/>
<rect x="387" y="724" width="1" height="3"/>
<rect x="515" y="724" width="1" height="3"/>
<rect x="643" y="724" width="1" height="3"/>
<rect x="771" y="724" width="1" height="3"/>
</g>
<g shape-rendering="crispEdges" clip-path="url(#cs)">
<rect x="0" y="590.0" width="7" height="90.0" fill="#000"/>
<rect x="8" y="598.0" width="7" height="82.0" fill="#000"/>
<rect x="16" y="607.0" width="7" height="73.0" fill="#000"/>
<rect x="24" y="610.0" width="7" height="70.0" fill="#000"/>
<rect x="32" y="618.0" width="7" height="62.0" fill="#000"/>
<rect x="40" y="625.0" width="7" height="55.0" fill="#000"/>
<rect x="48" y="630.0" width="7" height="50.0" fill="#000"/>
<rect x="56" y="633.8" width="7" height="46.2" fill="#000"/>
<rect x="64" y="640.8" width="7" height="39.2" fill="#000"/>
<rect x="72" y="644.0" width="7" height="36.0" fill="#000"/>
<rect x="80" y="645.8" width="7" height="34.2" fill="#000"/>
<rect x="88" y="645.0" width="7" height="35.0" fill="#000"/>
<rect x="96" y="650.0" width="7" height="30.0" fill="#000"/>
<rect x="104" y="654.0" width="7" height="26.0" fill="#000"/>
<rect x="112" y="658.0" width="7" height="22.0" fill="#000"/>
<rect x="120" y="666.0" width="7" height="14.0" fill="#000"/>
<rect x="128" y="667.0" width="7" height="13.0" fill="#000"/>
<rect x="136" y="666.0" width="7" height="14.0" fill="#000"/>
<rect x="144" y="666.0" width="7" height="14.0" fill="#000"/>
<rect x="152" y="665.0" width="7" height="15.0" fill="#000"/>
<rect x="160" y="665.0" width="7" height="15.0" fill="#000"/>
<rect x="168" y="667.0" width="7" height="13.0" fill="#000"/>
<rect x="176" y="670.0" width="7" height="10.0" fill="#000"/>
<rect x="184" y="673.0" width="7" height="7.0" fill="#000"/>
<rect x="192" y="670.0" width="7" height="10.0" fill="#000"/>
<rect x="200" y="671.0" width="7" height="9.0" fill="#000"/>
<rect x="208" y="677.0" width="7" height="3.0" fill="#000"/>
<rect x="216" y="676.0" width="7" height="4.0" fill="#000"/>
<rect x="224" y="674.0" width="7" height="6.0" fill="#000"/>
<rect x="232" y="666.0" width="7" height="14.0" fill="#000"/>
<rect x="240" y="660.0" width="7" height="20.0" fill="#000"/>
<rect x="248" y="657.0" width="7" height="23.0" fill="#000"/>
<rect x="256" y="656.0" width="7" height="24.0" fill="#000"/>
<rect x="264" y="660.0" width="7" height="20.0" fill="#000"/>
<rect x="272" y="658.0" width="7" height="22.0" fill="#000"/>
<rect x="280" y="661.0" width="7" height="19.0" fill="#000"/>
<rect x="288" y="663.0" width="7" height="17.0" fill="#000"/>
<rect x="296" y="650.0" width="7" height="30.0" fill="#000"/>
<rect x="304" y="643.0" width="7" height="37.0" fill="#000"/>
<rect x="312" y="638.0" width="7" height="42.0" fill="#000"/>
<rect x="320" y="632.0" width="7" height="48.0" fill="#000"/>
<rect x="328" y="631.0" width="7" height="49.0" fill="#000"/>
<rect x="336" y="628.0" width="7" height="52.0" fill="#000"/>
<rect x="344" y="629.0" width="7" height="51.0" fill="#000"/>
<rect x="352" y="630.0" width="7" height="50.0" fill="#000"/>
<rect x="360" y="632.0" width="7" height="48.0" fill="#000"/>
<rect x="368" y="636.0" width="7" height="44.0" fill="#000"/>
<rect x="376" y="641.0" width="7" height="39.0" fill="#000"/>
<rect x="384" y="645.0" width="7" height="35.0" fill="#000"/>
<rect x="392" y="651.0" width="7" height="29.0" fill="#000"/>
<rect x="400" y="656.0" width="7" height="24.0" fill="#000"/>
<rect x="408" y="666.0" width="7" height="14.0" fill="#000"/>
<rect x="416" y="672.0" width="7" height="8.0" fill="#000"/>
<rect x="432" y="680" width="7" height="6.0" fill="#000"/>
<rect x="440" y="680" width="7" height="8.0" fill="#000"/>
<rect x="448" y="680" width="7" height="9.0" fill="#000"/>
<rect x="456" y="680" width="7" height="10.0" fill="#000"/>
<rect x="464" y="680" width="7" height="13.0" fill="#000"/>
<rect x="472" y="680" width="7" height="13.0" fill="#000"/>
<rect x="480" y="680" width="7" height="18.0" fill="#000"/>
<rect x="488" y="680" width="7" height="18.0" fill="#000"/>
<rect x="496" y="680" width="7" height="12.0" fill="#000"/>
<rect x="504" y="680" width="7" height="13.0" fill="#000"/>
<rect x="512" y="680" width="7" height="14.0" fill="#000"/>
<rect x="520" y="680" width="7" height="18.0" fill="#000"/>
<rect x="528" y="680" width="7" height="24.0" fill="#000"/>
<rect x="536" y="680" width="7" height="30.0" fill="#000"/>
<rect x="544" y="680" width="7" height="36.0" fill="#000"/>
<rect x="552" y="680" width="7" height="37.0" fill="#000"/>
<rect x="560" y="680" width="7" height="36.0" fill="#000"/>
<rect x="568" y="680" width="7" height="35.0" fill="#000"/>
<rect x="576" y="680" width="7" height="33.0" fill="#000"/>
<rect x="584" y="680" width="7" height="24.0" fill="#000"/>
<rect x="592" y="680" width="7" height="17.0" fill="#000"/>
<rect x="600" y="680" width="7" height="19.0" fill="#000"/>
<rect x="608" y="680" width="7" height="17.0" fill="#000"/>
<rect x="616" y="680" width="7" height="15.0" fill="#000"/>
<rect x="624" y="680" width="7" height="15.0" fill="#000"/>
<rect x="632" y="680" width="7" height="17.0" fill="#000"/>
<rect x="640" y="680" width="7" height="18.0" fill="#000"/>
<rect x="648" y="680" width="7" height="16.0" fill="#000"/>
<rect x="656" y="680" width="7" height="12.0" fill="#000"/>
<rect x="664" y="680" width="7" height="8.0" fill="#000"/>
<rect x="672" y="680" width="7" height="8.0" fill="#000"/>
<rect x="680" y="680" width="7" height="5.0" fill="#000"/>
<rect x="696" y="677.0" width="7" height="3.0" fill="#000"/>
<rect x="704" y="670.0" width="7" height="10.0" fill="#000"/>
<rect x="712" y="663.0" width="7" height="17.0" fill="#000"/>
<rect x="720" y="658.0" width="7" height="22.0" fill="#000"/>
<rect x="728" y="652.0" width="7" height="28.0" fill="#000"/>
<rect x="736" y="649.0" width="7" height="31.0" fill="#000"/>
<rect x="744" y="649.0" width="7" height="31.0" fill="#000"/>
<rect x="752" y="642.0" width="7" height="38.0" fill="#000"/>
<rect x="760" y="632.0" width="7" height="48.0" fill="#000"/>
<rect x="768" y="625.0" width="7" height="55.0" fill="#000"/>
<rect x="776" y="619.0" width="7" height="61.0" fill="#000"/>
<rect x="784" y="610.4" width="7" height="69.6" fill="#000"/>
<rect x="792" y="606.0" width="7" height="74.0" fill="#000"/>
<rect x="800" y="606.0" width="7" height="74.0" fill="#000"/>
<rect x="808" y="609.0" width="7" height="71.0" fill="#000"/>
<rect x="816" y="614.0" width="7" height="66.0" fill="#000"/>
<rect x="824" y="620.0" width="7" height="60.0" fill="#000"/>
<rect x="832" y="623.0" width="7" height="57.0" fill="#000"/>
<rect x="840" y="620.0" width="7" height="60.0" fill="#000"/>
<rect x="848" y="615.4" width="7" height="64.6" fill="#000"/>
<rect x="856" y="611.0" width="7" height="69.0" fill="#000"/>
<rect x="864" y="611.0" width="7" height="69.0" fill="#000"/>
<rect x="872" y="611.0" width="7" height="69.0" fill="#000"/>
<rect x="3" y="679" width="926" height="2" fill="#000"/>
<path d="M3 581H4V580H7V581H10V582H12V583H14V584H16V585H18V586H20V587H22V588H24V589H26V590H27V591H29V592H31V593H32V594H34V595H35V596H37V597H38V598H40V599H41V600H43V601H44V602H46V603H47V604H48V605H50V606H51V607H53V608H54V609H56V610H57V611H59V612H60V613H62V614H63V615H64V616H66V617H67V618H69V619H70V620H72V621H73V622H75V623H77V624H78V625H80V626H81V627H83V628H85V629H86V630H88V631H90V632H92V633H94V634H95V635H97V636H99V637H101V638H103V639H105V640H107V641H109V642H112V643H114V644H116V645H118V646H121V647H123V648H126V649H128V650H131V651H134V652H136V653H139V654H142V655H145V656H148V657H152V658H155V659H158V660H161V661H165V662H169V663H173V664H178V665H184V666H192V667H201V668H212V669H224V670H244V669H250V668H254V667H258V666H262V665H267V664H273V663H278V662H284V661H288V660H292V659H296V658H300V657H304V656H307V655H310V654H314V653H317V652H320V651H323V650H326V649H329V648H332V647H335V646H337V645H340V644H342V643H344V642H346V641H348V640H350V639H352V638H354V637H356V636H359V635H361V634H364V633H368V632H389V633H392V634H395V635H398V636H400V637H403V638H405V639H408V640H410V641H412V642H414V643H416V644H417V645H419V646H420V647H422V648H423V649H424V650H426V651H427V652H428V653H430V654H431V655H432V656H433V657H435V658H436V659H438V660H439V661H440V662H442V663H444V664H445V665H447V666H449V667H450V668H452V669H454V670H456V671H458V672H459V673H461V674H463V675H465V676H467V677H468V678H470V679H472V680H473V681H475V682H477V683H479V684H481V685H483V686H485V687H489V688H494V689H503V690H514V691H522V692H527V693H531V694H535V695H538V696H542V697H545V698H549V699H552V700H556V701H559V702H563V703H566V704H570V705H573V706H577V707H583V708H589V707H594V708H603V707H608V706H611V705H615V704H618V703H622V702H625V701H629V700H633V699H637V698H641V697H645V696H649V695H654V694H660V693H668V692H676V691H682V690H686V689H691V688H694V687H697V686H700V685H703V684H706V683H708V682H710V681H712V680H714V679H716V678H718V677H720V676H722V675H724V674H726V673H727V672H729V671H731V670H733V669H734V668H736V667H738V666H740V665H742V664H744V663H746V662H748V661H749V660H751V659H753V658H755V657H756V656H758V655H759V654H761V653H762V652H764V651H765V650H766V649H768V648H769V647H771V646H772V645H773V644H775V643H776V642H778V641H779V640H780V639H782V638H783V637H785V636H786V635H787V634H789V633H790V632H792V631H793V630H795V629H796V628H798V627H800V626H801V625H803V624H805V623H806V622H808V621H810V620H811V619H813V618H815V617H818V616H821V615H826V614H833V613H875V616H837V617H828V618H823V619H819V620H817V621H815V622H813V623H811V624H809V625H808V626H806V627H804V628H803V629H801V630H799V631H798V632H796V633H795V634H793V635H792V636H790V637H789V638H788V639H786V640H785V641H783V642H782V643H781V644H779V645H778V646H776V647H775V648H774V649H772V650H771V651H769V652H768V653H767V654H765V655H764V656H762V657H761V658H759V659H758V660H756V661H754V662H753V663H751V664H749V665H747V666H745V667H743V668H741V669H739V670H738V671H736V672H734V673H732V674H731V675H729V676H727V677H725V678H724V679H722V680H720V681H718V682H716V683H714V684H711V685H709V686H707V687H704V688H702V689H699V690H696V691H692V692H688V693H683V694H678V695H671V696H663V697H656V698H651V699H647V700H642V701H639V702H635V703H631V704H627V705H623V706H620V707H617V708H613V709H609V710H605V711H580V710H576V709H572V708H568V707H565V706H561V705H558V704H554V703H551V702H547V701H544V700H540V699H537V698H533V697H529V696H525V695H520V694H511V693H499V692H492V691H487V690H484V689H482V688H479V687H477V686H475V685H474V684H472V683H470V682H469V681H467V680H465V679H463V678H462V677H460V676H458V675H456V674H454V673H453V672H451V671H449V670H447V669H445V668H444V667H442V666H441V665H439V664H437V663H436V662H435V661H433V660H432V659H431V658H429V657H428V656H427V655H426V654H424V653H423V652H422V651H420V650H419V649H417V648H416V647H414V646H413V645H411V644H409V643H406V642H404V641H402V640H399V639H396V638H394V637H391V636H387V635H370V636H366V637H363V638H360V639H358V640H356V641H354V642H352V643H350V644H348V645H346V646H344V647H341V648H339V649H336V650H333V651H330V652H327V653H324V654H321V655H318V656H315V657H312V658H309V659H305V660H302V661H298V662H294V663H290V664H285V665H280V666H275V667H269V668H264V669H260V670H256V671H252V672H246V673H220V672H208V671H199V670H190V669H182V668H176V667H171V666H167V665H163V664H160V663H157V662H153V661H150V660H147V659H144V658H141V657H138V656H135V655H132V654H129V653H127V652H124V651H122V650H119V649H117V648H115V647H112V646H110V645H108V644H106V643H104V642H102V641H100V640H98V639H96V638H94V637H92V636H90V635H89V634H87V633H85V632H83V631H82V630H80V629H78V628H77V627H75V626H73V625H72V624H70V623H69V622H67V621H66V620H64V619H63V618H62V617H60V616H59V615H57V614H56V613H54V612H53V611H51V610H50V609H49V608H47V607H46V606H44V605H43V604H41V603H40V602H38V601H37V600H35V599H34V598H32V597H31V596H29V595H28V594H26V593H24V592H23V591H21V590H19V589H17V588H15V587H13V586H11V585H8V584H3Z" fill="#FF0000" /><circle cx="875.5" cy="615.0" r="1.65" fill="#FF0000"/>
</g>
<g shape-rendering="crispEdges" fill="#000">
<rect x="930" y="31" width="62" height="30"/>
<rect x="930" y="672" width="10" height="16.5"/>
</g>
<g font-family="'Liberation Sans', 'DejaVu Sans', sans-serif" font-size="14" fill="#000">
<text x="935.2" y="23.0" textLength="51.6" lengthAdjust="spacingAndGlyphs">1.63185</text>
<text x="935.2" y="88.0" textLength="51.6" lengthAdjust="spacingAndGlyphs">1.60875</text>
<text x="935.2" y="153.0" textLength="51.6" lengthAdjust="spacingAndGlyphs">1.58565</text>
<text x="935.2" y="218.0" textLength="51.6" lengthAdjust="spacingAndGlyphs">1.56255</text>
<text x="935.2" y="283.0" textLength="51.6" lengthAdjust="spacingAndGlyphs">1.53945</text>
<text x="935.2" y="348.0" textLength="51.6" lengthAdjust="spacingAndGlyphs">1.51635</text>
<text x="935.2" y="413.0" textLength="51.6" lengthAdjust="spacingAndGlyphs">1.49325</text>
<text x="935.2" y="478.0" textLength="51.6" lengthAdjust="spacingAndGlyphs">1.47015</text>
<text x="935.2" y="543.0" textLength="51.6" lengthAdjust="spacingAndGlyphs">1.44705</text>
<rect x="930" y="129" width="62" height="17" fill="#000" shape-rendering="crispEdges"/>
<rect x="930" y="62" width="62" height="17" fill="#000" shape-rendering="crispEdges"/>
<text x="935.2" y="45.0" fill="#fff" textLength="51.6" lengthAdjust="spacingAndGlyphs">1.62500</text>
<text x="935.2" y="58.1" fill="#fff" textLength="51.6" lengthAdjust="spacingAndGlyphs">1.61943</text>
<text x="935.2" y="76.0" fill="#fff" textLength="51.6" lengthAdjust="spacingAndGlyphs">1.61400</text>
<text x="935.2" y="142.7" fill="#fff" textLength="51.6" lengthAdjust="spacingAndGlyphs">1.59000</text>
<text x="24.4" y="18.6" textLength="85" lengthAdjust="spacingAndGlyphs">EURAUD,Daily</text>
<text x="118.4" y="18.6" textLength="219" lengthAdjust="spacingAndGlyphs">1.61873 1.62243 1.61483 1.61943</text>
<text x="6.6" y="592" textLength="95.6" lengthAdjust="spacingAndGlyphs">MACD(12,26,9)</text>
<text x="106.4" y="592" textLength="122.8" lengthAdjust="spacingAndGlyphs">0.014291 0.013460</text>
<text x="931.8" y="590" textLength="60" lengthAdjust="spacingAndGlyphs">0.021523</text>
<text x="931.6" y="686" textLength="28.6" lengthAdjust="spacingAndGlyphs"><tspan fill="#fff">0</tspan>.00</text>
<text x="932.6" y="719" textLength="63.6" lengthAdjust="spacingAndGlyphs">-0.008702</text>
<text x="2.0" y="741">25 Oct 2022</text>
<text x="130.0" y="741">16 Nov 2022</text>
<text x="258.0" y="741">8 Dec 2022</text>
<text x="386.0" y="741">30 Dec 2022</text>
<text x="514.0" y="741">23 Jan 2023</text>
<text x="642.0" y="741">14 Feb 2023</text>
<text x="770.0" y="741">8 Mar 2023</text>
</g>
<path d="M5.8 10 L17.2 10 L11.5 16.2 Z" fill="#000"/>
<g font-family="'Liberation Sans', 'DejaVu Sans', sans-serif" font-weight="bold">
<text x="490.1" y="36.8" font-size="18.8" fill="#000" stroke="#000" stroke-width="1.3" stroke-linejoin="round" textLength="130.9" lengthAdjust="spacingAndGlyphs">1.6250 level</text>
<text x="570.1" y="88.3" font-size="18.8" fill="#000" stroke="#000" stroke-width="1.3" stroke-linejoin="round" textLength="130.9" lengthAdjust="spacingAndGlyphs">1.6140 level</text>
<text x="413.2" y="126.1" font-size="21.9" fill="#000" stroke="#000" stroke-width="1.3" stroke-linejoin="round" textLength="157.0" lengthAdjust="spacingAndGlyphs">1.5900 level</text>
<text x="826.5" y="178.3" font-size="21.9" fill="#0000FF" stroke="#0000FF" stroke-width="1.3" stroke-linejoin="round" textLength="97.7" lengthAdjust="spacingAndGlyphs">50 SMA</text>
<text x="739.5" y="274.4" font-size="21.9" fill="#008000" stroke="#008000" stroke-width="1.3" stroke-linejoin="round" textLength="113.5" lengthAdjust="spacingAndGlyphs">100 SMA</text>
<text x="698.5" y="370.7" font-size="21.9" fill="#800080" stroke="#800080" stroke-width="1.3" stroke-linejoin="round" textLength="114.6" lengthAdjust="spacingAndGlyphs">200 SMA</text>
<text x="493.6" y="472.6" font-size="21.9" fill="#000" stroke="#000" stroke-width="1.3" stroke-linejoin="round" textLength="298.7" lengthAdjust="spacingAndGlyphs">EURAUD D1 timeframe</text>
</g>
</svg>
</body></html>
